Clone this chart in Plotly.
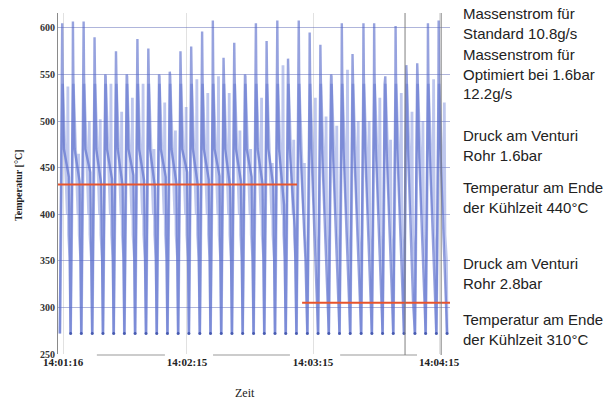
import pandas as pd
import plotly.graph_objects as go

# ---------------- data ----------------
base_time = pd.Timestamp("2020-01-01 14:01:14.5")
# start (minimum) of each temperature cycle, seconds after base_time
cycle_start_s = [0, 5.1, 10.2, 15.4, 20.5, 25.6, 30.7, 35.8, 41.0, 46.1, 51.2, 56.3,
                 61.4, 66.6, 71.7, 76.8, 81.9, 87.0, 92.2, 97.3, 102.4, 107.5, 112.6,
                 117.8, 122.9, 128.0, 133.1, 138.2, 143.4, 148.5, 153.6, 158.7, 163.8,
                 169.0, 174.1, 179.2, 184.3]
# main thermocouple: peak and end-of-cooling temperature per cycle
peak_a = [605, 607, 607, 590, 550, 575, 550, 588, 578, 550, 553, 575,
          580, 596, 608, 568, 584, 550, 605, 586, 608, 567, 608, 595,
          582, 550, 605, 572, 605, 605, 548, 602, 560, 562, 605, 608]
cool_a = [440, 435, 445, 432, 438, 430, 442, 436, 428, 440, 433, 445,
          430, 437, 441, 428, 435, 440, 432, 430, 410, 385, 350, 330,
          322, 315, 318, 310, 312, 308, 315, 310, 306, 312, 308, 310]
# second thermocouple: secondary spike per cycle
peak_b = [537, 465, 500, 502, 540, 510, 525, 540, 470, 520, 490, 515,
          545, 530, 548, 530, 490, 470, 525, 455, 560, 480, 455, 525,
          505, 495, 555, 500, 500, 525, 480, 530, 510, 500, 545, 520]
min_temp = 272
# shape of one cycle (seconds after cycle start)
shape_a_s = [0.0, 1.0, 1.1, 1.3, 1.9, 4.3]
shape_b_s = [0.0, 1.0, 1.3, 3.5, 3.8, 4.1, 4.8]

# reference levels (end of cooling)
level_vals = [432, 305]
level_t0 = ["2020-01-01 14:01:13.6", "2020-01-01 14:03:09.8"]
level_t1 = ["2020-01-01 14:03:07.4", "2020-01-01 14:04:20.2"]

tick_times = ["2020-01-01 14:01:16", "2020-01-01 14:02:15",
              "2020-01-01 14:03:15", "2020-01-01 14:04:15"]
tick_text = ["14:01:16", "14:02:15", "14:03:15", "14:04:15"]
y_ticks = [250, 300, 350, 400, 450, 500, 550, 600]

notes = [
    ("Massenstrom für<br>Standard 10.8g/s", 23.5),
    ("Massenstrom für<br>Optimiert bei 1.6bar<br>12.2g/s", 74),
    ("Druck am Venturi<br>Rohr 1.6bar", 145),
    ("Temperatur am Ende<br>der Kühlzeit 440°C", 197),
    ("Druck am Venturi<br>Rohr 2.8bar", 273),
    ("Temperatur am Ende<br>der Kühlzeit 310°C", 329),
]

# ---------------- build series ----------------
def ts(sec):
    return base_time + pd.Timedelta(seconds=sec)

xa, ya, xb, yb = [], [], [], []
for k in range(len(peak_a)):
    t0 = cycle_start_s[k]
    va = [min_temp, 540, peak_a[k], 548, 470, cool_a[k]]
    for off, v in zip(shape_a_s, va):
        xa.append(ts(t0 + off)); ya.append(v)
    vb = [min_temp, 520, 540, 400, peak_b[k], 378, 352]
    for off, v in zip(shape_b_s, vb):
        xb.append(ts(t0 + off)); yb.append(v)
xa.append(ts(cycle_start_s[-1])); ya.append(min_temp)
xb.append(ts(cycle_start_s[-1])); yb.append(min_temp)

fig = go.Figure()
fig.add_trace(go.Scatter(x=xb, y=yb, mode="lines",
                         line=dict(color="rgba(110,130,215,0.45)", width=2.8)))
fig.add_trace(go.Scatter(x=xa, y=ya, mode="lines",
                         line=dict(color="rgba(80,100,200,0.6)", width=2.4)))
fig.add_trace(go.Scatter(x=[ts(s) for s in cycle_start_s[1:]],
                         y=[min_temp] * (len(cycle_start_s) - 1), mode="markers",
                         marker=dict(color="rgba(60,80,170,0.9)", size=3)))
for v, a, b in zip(level_vals, level_t0, level_t1):
    fig.add_trace(go.Scatter(x=[a, b], y=[v, v], mode="lines",
                             line=dict(color="#e8542c", width=2)))

# decorative axis segments (broken axis line and cursor lines)
seg_col = "#9a9a9a"
for a, b in [("14:01:32.1", "14:02:04.5"), ("14:02:27.4", "14:03:04"),
             ("14:03:27.9", "14:04:04.5")]:
    fig.add_shape(type="line", xref="x", yref="paper",
                  x0="2020-01-01 " + a, x1="2020-01-01 " + b, y0=-0.003, y1=-0.003,
                  line=dict(color=seg_col, width=1.2))
for t in ["14:03:58.8", "14:04:16"]:
    fig.add_shape(type="line", xref="x", yref="paper",
                  x0="2020-01-01 " + t, x1="2020-01-01 " + t, y0=-0.003, y1=1,
                  line=dict(color="rgba(120,120,120,0.8)", width=1.2))

for txt, yc in notes:
    fig.add_annotation(text=txt, xref="paper", yref="paper",
                       x=(461 - 58) / 392, y=(354 - yc) / 341,
                       xanchor="left", yanchor="middle", align="left", showarrow=False,
                       font=dict(family="Liberation Sans, Arial", size=15, color="#222"))
fig.add_annotation(text="Temperatur [°C]", xref="paper", yref="paper",
                   x=(18 - 58) / 392, y=(354 - 185) / 341, textangle=-90,
                   showarrow=False, xanchor="center", yanchor="middle",
                   font=dict(family="Liberation Serif, Times New Roman", size=10,
                             color="#222", weight="bold"))
fig.add_annotation(text="Zeit", xref="paper", yref="paper",
                   x=(245 - 58) / 392, y=(354 - 393) / 341,
                   showarrow=False, xanchor="center", yanchor="middle",
                   font=dict(family="Liberation Serif, Times New Roman", size=12, color="#222"))

fig.update_layout(
    width=609, height=403, showlegend=False,
    margin=dict(l=58, r=159, t=13, b=49),
    paper_bgcolor="white", plot_bgcolor="white",
    xaxis=dict(type="date", range=["2020-01-01 14:01:13.6", "2020-01-01 14:04:20.2"],
               tickvals=tick_times, ticktext=tick_text, ticks="",
               showgrid=True, gridcolor="rgba(170,170,170,0.35)", gridwidth=1,
               showline=False, zeroline=False,
               tickfont=dict(family="Liberation Serif, Times New Roman", size=11,
                             color="#222", weight="bold")),
    yaxis=dict(range=[250, 616], tickvals=y_ticks, ticks="",
               showgrid=True, gridcolor="rgba(110,120,190,0.55)", gridwidth=1,
               showline=True, linecolor="#8a8a8a", linewidth=1, zeroline=False,
               tickfont=dict(family="Liberation Serif, Times New Roman", size=10,
                             color="#333", weight="bold")),
)

fig.write_html("out.html")
